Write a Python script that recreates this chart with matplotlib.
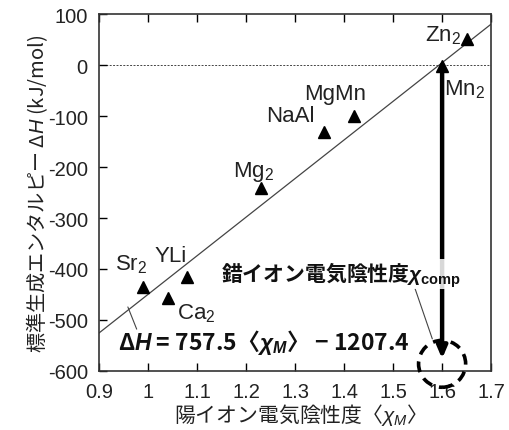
import matplotlib
matplotlib.use("Agg")
import matplotlib.pyplot as plt
from matplotlib.patches import Ellipse
import numpy as np

plt.rcParams['font.family'] = ['Liberation Sans', 'Noto Sans CJK JP', 'DejaVu Sans']
plt.rcParams['axes.unicode_minus'] = False
plt.rcParams['mathtext.fontset'] = 'custom'
plt.rcParams['mathtext.rm'] = 'Liberation Sans'
plt.rcParams['mathtext.it'] = 'Liberation Sans:italic'
plt.rcParams['mathtext.bf'] = 'Liberation Sans:bold:italic'
plt.rcParams['mathtext.sf'] = 'Liberation Sans:bold'

# data
names = ['Zn$_2$', 'Mn$_2$', 'MgMn', 'NaAl', 'Mg$_2$', 'YLi', 'Sr$_2$', 'Ca$_2$']
chi = [1.65, 1.60, 1.42, 1.36, 1.23, 1.08, 0.99, 1.04]
dH = [52, -2, -100, -132, -241, -416, -435, -457]
label_x = [1.565, 1.603, 1.382, 1.242, 1.216, 1.047, 0.965, 1.098]
label_y = [60, -47, -55, -98, -208, -373, -390, -486]
label_ha = ['left', 'left', 'center', 'left', 'center', 'center', 'center', 'center']
slope, intercept = 757.5, -1207.4
chi_comp = 1.60
arrow_end = -576
circle_y = -586
xticks = [0.9, 1.0, 1.1, 1.2, 1.3, 1.4, 1.5, 1.6, 1.7]
xticklabels = ['0.9', '1', '1.1', '1.2', '1.3', '1.4', '1.5', '1.6', '1.7']
yticks = [100, 0, -100, -200, -300, -400, -500, -600]

CJK = ['Noto Sans CJK JP']

fig = plt.figure(figsize=(5.10, 4.31), dpi=100)
ax = fig.add_axes([0.194, 0.137, 0.769, 0.828])
ax.set_xlim(0.9, 1.7)
ax.set_ylim(-600, 100)

xx = np.array([0.9, 1.7])
ax.plot(xx, slope * xx + intercept, color='#444444', lw=0.9, zorder=2)
ax.axhline(0, color='#444444', lw=0.7, ls=(0, (2, 1.5)), zorder=1)

ax.plot(chi, dH, '^', color='black', ms=8, zorder=4, clip_on=False)
for n, x, y, ha in zip(names, label_x, label_y, label_ha):
    ax.text(x, y, n, fontsize=16, ha=ha, va='center', color='#222222')

# thick arrow
ax.annotate('', xy=(chi_comp, arrow_end), xytext=(chi_comp, 0),
            arrowprops=dict(arrowstyle='-|>,head_length=0.7,head_width=0.3',
                            lw=3.2, color='black', shrinkA=0, shrinkB=0), zorder=5)
ax.add_patch(Ellipse((chi_comp, circle_y), 0.096, 92, fill=False, ec='black',
                     lw=2.6, ls=(0, (3, 2)), clip_on=False, zorder=6))

# equation
ax.text(0.939, -543, 'Δ$\\mathbf{H}$ = 757.5〈$\\mathbf{\\chi_M}$〉 − 1207.4',
        fontsize=16.5, fontweight='bold', ha='left', va='center', family=CJK, color='#111111')
ax.annotate('', xy=(0.959, -474.5), xytext=(0.977, -518),
            arrowprops=dict(arrowstyle='-', lw=0.8, color='#444444', shrinkA=0, shrinkB=0))

# complex ion label
ax.text(1.148, -410, '錯イオン電気陰性度$\\mathbf{\\chi}_{\\mathsf{comp}}$',
        fontsize=15, fontweight='bold', ha='left', va='center', family=CJK, color='#111111',
        zorder=7, bbox=dict(facecolor='white', alpha=0.85, edgecolor='none', pad=0))
ax.annotate('', xy=(1.580, -537), xytext=(1.545, -439),
            arrowprops=dict(arrowstyle='-', lw=0.8, color='#444444', shrinkA=0, shrinkB=0))

ax.set_xticks(xticks)
ax.set_xticklabels(xticklabels)
ax.set_yticks(yticks)
ax.tick_params(direction='in', length=6, width=1, labelsize=14.5, top=True, right=False,
               pad=8, labelcolor='#222222')
for s in ax.spines.values():
    s.set_linewidth(1.2)
    s.set_color('#333333')

ax.set_xlabel('陽イオン電気陰性度〈$\\chi_{M}$〉', fontsize=15, labelpad=0, family=CJK, color='#222222')
ax.set_ylabel('標準生成エンタルピー Δ$H$ (kJ/mol)', fontsize=14.5, labelpad=-2, family=CJK, color='#222222')

fig.savefig('out.png', dpi=100)
